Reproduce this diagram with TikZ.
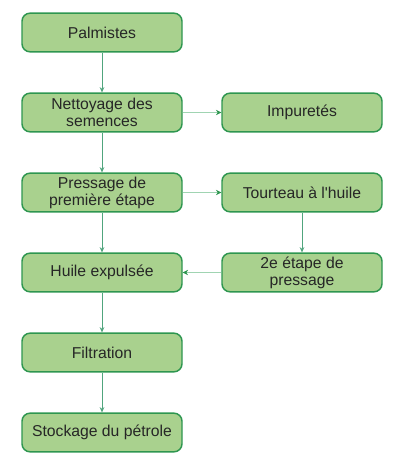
\documentclass[tikz,border=0pt]{standalone}
\usepackage{fontspec}
\setmainfont{Liberation Sans}
\usetikzlibrary{arrows.meta}
\usetikzlibrary{positioning}
\definecolor{boxfill}{RGB}{169,209,142}
\definecolor{boxline}{RGB}{46,150,80}
\definecolor{pfeil}{RGB}{80,165,125}
\definecolor{pfeilhell}{RGB}{160,212,178}

\begin{document}
\begin{tikzpicture}[x=0.75pt, y=-0.75pt,
  schritt/.style={draw=boxline, fill=boxfill, line width=1.1pt, rounded corners=6pt,
    minimum width=120pt, minimum height=29pt, align=center, inner sep=1pt,
    font=\fontsize{11.8}{12.8}\selectfont, text=black!85},
  fluss/.style={draw=pfeil, line width=0.6pt, -{Stealth[length=4pt,width=3.5pt]}},
  quer/.style={draw=pfeilhell, line width=1.4pt, -{Stealth[length=4pt,width=4pt,color=boxline]}}]

% Rahmen
\useasboundingbox (0,0) rectangle (406,467);

% Schritte
\node[schritt] (palm) at (102,32.5) {Palmistes};
\node[schritt] (nett) at (102,112.5) {Nettoyage des\\semences};
\node[schritt] (imp) at (302,112.5) {Impuretés};
\node[schritt] (press) at (102,192.5) {Pressage de\\première étape};
\node[schritt] (tour) at (302,192.5) {Tourteau à l\textquotesingle huile};
\node[schritt] (huile) at (102,272.5) {Huile expulsée};
\node[schritt] (zweit) at (302,272.5) {2e étape de\\pressage};
\node[schritt] (filt) at (102,352.5) {Filtration};
\node[schritt] (stock) at (102,432.5) {Stockage du pétrole};

% Pfeile
\draw[fluss] (palm) -- (nett);
\draw[fluss] (nett) -- (press);
\draw[fluss] (press) -- (huile);
\draw[fluss] (huile) -- (filt);
\draw[fluss] (filt) -- (stock);
\draw[fluss] (tour) -- (zweit);
\draw[quer] (nett) -- (imp);
\draw[quer] (press) -- (tour);
\draw[quer] (zweit) -- (huile);

\end{tikzpicture}
\end{document}
